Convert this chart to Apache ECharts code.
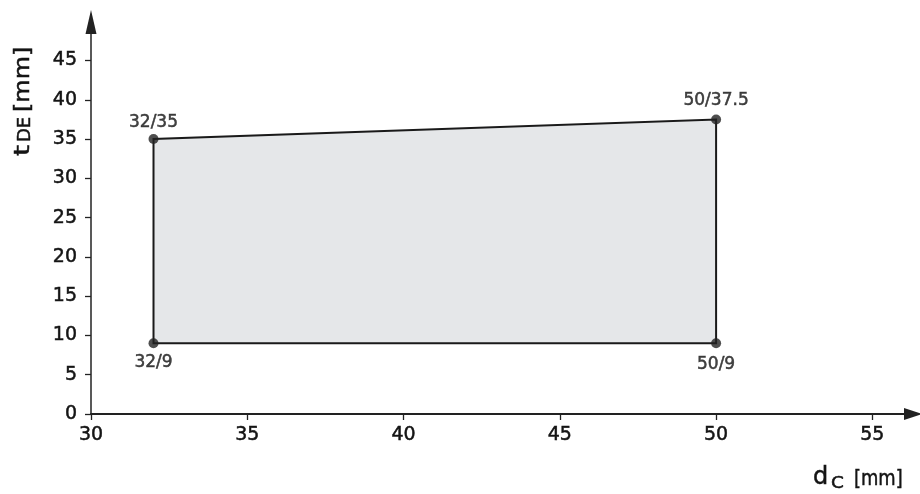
<!DOCTYPE html>
<html>
<head>
<meta charset="utf-8">
<script src="https://cdn.jsdelivr.net/npm/echarts@6/dist/echarts.min.js"></script>
<style>html,body{margin:0;padding:0;background:#fff}#c{width:920px;height:494px}</style>
</head>
<body>
<div id="c"></div>
<script>
// ---- data ----
const xTicks = [30, 35, 40, 45, 50, 55];
const yTicks = [0, 5, 10, 15, 20, 25, 30, 35, 40, 45];
const cornerX = [32, 32, 50, 50];
const cornerY = [9, 35, 37.5, 9];
const cornerLabels = ['32/9', '32/35', '50/37.5', '50/9'];
const labelPos = ['bottom', 'top', 'top', 'bottom'];

const FONT = 'DejaVu Sans';
const TXT = '#141414';
const chart = echarts.init(document.getElementById('c'));

const corners = cornerX.map((x, i) => [x, cornerY[i]]);
const labelDist = [6, 3, 5, 8];
const thick = { textBorderColor: TXT, textBorderWidth: 0.5 };
function gText(text, x, y, size, sx) {
  return { type: 'text', x: x, y: y, scaleX: sx || 1,
    style: { text: text, fontFamily: FONT, fontSize: size, fill: TXT, stroke: TXT, lineWidth: 0.5,
      verticalAlign: 'middle', align: 'left' } };
}

chart.setOption({
  animation: false,
  grid: { left: 91, right: 7, top: 22, bottom: 80, containLabel: false },
  xAxis: {
    type: 'value', min: 30, max: 56.3, interval: 5,
    axisLine: { show: true, onZero: false, symbol: ['none', 'triangle'], symbolSize: [12, 18],
      lineStyle: { color: '#222', width: 2 } },
    axisTick: { show: true, length: 6, inside: false, customValues: xTicks,
      lineStyle: { color: '#222', width: 1.3 } },
    axisLabel: Object.assign({ customValues: xTicks, margin: 12, color: TXT, fontFamily: FONT, fontSize: 19 }, thick),
    splitLine: { show: false }
  },
  yAxis: {
    type: 'value', min: 0, max: 49.9, interval: 5,
    axisLine: { show: true, onZero: false, symbol: ['none', 'triangle'], symbolSize: [11, 24],
      lineStyle: { color: '#222', width: 1.5 } },
    axisTick: { show: true, length: 6, inside: false, customValues: yTicks,
      lineStyle: { color: '#222', width: 1.3 } },
    axisLabel: Object.assign({ customValues: yTicks, margin: 14, color: TXT, fontFamily: FONT, fontSize: 19 }, thick),
    splitLine: { show: false }
  },
  series: [
    {
      type: 'custom',
      data: corners,
      encode: { x: 0, y: 1 },
      z: 1,
      silent: true,
      renderItem: function (params, api) {
        if (params.dataIndex !== 0) return null;
        const pts = cornerX.map((x, i) => api.coord([x, cornerY[i]]));
        return {
          type: 'polygon',
          shape: { points: pts },
          style: { fill: '#e5e7e9', stroke: '#1a1a1a', lineWidth: 2, lineJoin: 'miter' }
        };
      }
    },
    {
      type: 'scatter',
      z: 3,
      symbol: 'circle',
      symbolSize: 10,
      itemStyle: { color: '#222' },
      data: corners.map((c, i) => ({
        value: c,
        label: Object.assign({
          show: true, formatter: cornerLabels[i], position: labelPos[i], distance: labelDist[i],
          color: TXT, fontFamily: FONT, fontSize: 17
        }, thick)
      }))
    }
  ],
  graphic: [
    {
      type: 'group', x: 813, y: 485,
      children: [
        gText('d', 0, -7.2, 24),
        gText('C', 18, -0.8, 16, 1.15),
        gText('[mm]', 41, -5.3, 21, 0.85)
      ]
    },
    {
      type: 'group', x: 30, y: 156, rotation: Math.PI / 2,
      children: [
        gText('t', 0, -6.6, 22, 1.3),
        gText('DE', 14, -4.4, 18),
        gText('[mm]', 44, -6.8, 21, 1.14)
      ]
    }
  ]
});
</script>
</body>
</html>
